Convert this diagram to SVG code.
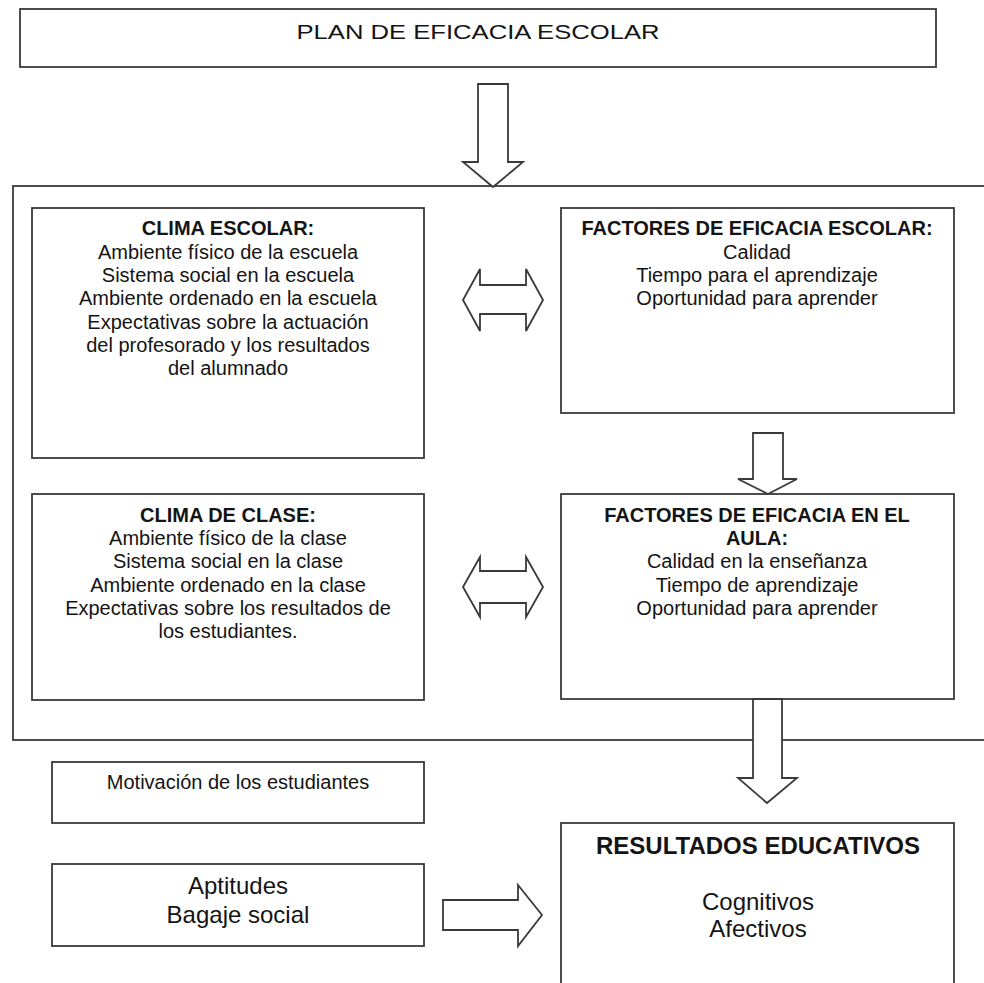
<svg xmlns="http://www.w3.org/2000/svg" width="984" height="983" viewBox="0 0 984 983">
<style>
.box{fill:#fff;stroke:#3a3a3a;stroke-width:1.8}
.arrow{fill:#fff;stroke:#3a3a3a;stroke-width:1.8;stroke-linejoin:miter}
text{font-family:"Liberation Sans",Arial,sans-serif;fill:#141414;text-anchor:middle}
.t{font-size:20px}
.h{font-size:20px;font-weight:bold}
.big{font-size:24px}
.bigh{font-size:24px;font-weight:bold}
</style>
<rect width="984" height="983" fill="#fff"/>
<g id="outer">
<rect class="box" x="13" y="186" width="990" height="554"/>
</g>
<g id="plan">
<rect class="box" x="20" y="9" width="916" height="58"/>
<text x="478" y="39" font-size="21" textLength="363" lengthAdjust="spacingAndGlyphs">PLAN DE EFICACIA ESCOLAR</text>
</g>
<g id="clima-escolar">
<rect class="box" x="32" y="208" width="392" height="250"/>
<text class="h" x="228" y="235">CLIMA ESCOLAR:</text>
<text class="t" x="228" y="259">Ambiente físico de la escuela</text>
<text class="t" x="228" y="282">Sistema social en la escuela</text>
<text class="t" x="228" y="305">Ambiente ordenado en la escuela</text>
<text class="t" x="228" y="329">Expectativas sobre la actuación</text>
<text class="t" x="228" y="352">del profesorado y los resultados</text>
<text class="t" x="228" y="375">del alumnado</text>
</g>
<g id="factores-escolar">
<rect class="box" x="561" y="208" width="393" height="205"/>
<text class="h" x="757" y="235">FACTORES DE EFICACIA ESCOLAR:</text>
<text class="t" x="757" y="259">Calidad</text>
<text class="t" x="757" y="282">Tiempo para el aprendizaje</text>
<text class="t" x="757" y="305">Oportunidad para aprender</text>
</g>
<g id="clima-clase">
<rect class="box" x="32" y="494" width="392" height="206"/>
<text class="h" x="228" y="522">CLIMA DE CLASE:</text>
<text class="t" x="228" y="545">Ambiente físico de la clase</text>
<text class="t" x="228" y="568">Sistema social en la clase</text>
<text class="t" x="228" y="592">Ambiente ordenado en la clase</text>
<text class="t" x="228" y="615">Expectativas sobre los resultados de</text>
<text class="t" x="228" y="638">los estudiantes.</text>
</g>
<g id="factores-aula">
<rect class="box" x="561" y="494" width="393" height="205"/>
<text class="h" x="757" y="522">FACTORES DE EFICACIA EN EL</text>
<text class="h" x="757" y="545">AULA:</text>
<text class="t" x="757" y="568">Calidad en la enseñanza</text>
<text class="t" x="757" y="592">Tiempo de aprendizaje</text>
<text class="t" x="757" y="615">Oportunidad para aprender</text>
</g>
<g id="motivacion">
<rect class="box" x="52" y="762" width="372" height="61"/>
<text class="t" x="238" y="789">Motivación de los estudiantes</text>
</g>
<g id="aptitudes">
<rect class="box" x="52" y="864" width="372" height="82"/>
<text class="big" x="238" y="894">Aptitudes</text>
<text class="big" x="238" y="923">Bagaje social</text>
</g>
<g id="resultados">
<rect class="box" x="561" y="823" width="393" height="180"/>
<text class="bigh" x="758" y="854">RESULTADOS EDUCATIVOS</text>
<text class="big" x="758" y="910">Cognitivos</text>
<text class="big" x="758" y="937">Afectivos</text>
</g>
<g id="connectors">
<polygon class="arrow" points="478,84 508,84 508,162 523,162 493,187 463,162 478,162"/>
<polygon class="arrow" points="463,300 480,269 480,285 526,285 526,269 543,300 526,331 526,314 480,314 480,331"/>
<polygon class="arrow" points="463,587 480,557 480,571 526,571 526,557 543,587 526,617 526,603 480,603 480,617"/>
<polygon class="arrow" points="753,433 783,433 783,479 797,479 768,494 738,479 753,479"/>
<polygon class="arrow" points="753,699 782,699 782,778 797,778 767,803 738,778 753,778"/>
<polygon class="arrow" points="443,900 518,900 518,885 542,915 518,946 518,930 443,930"/>
</g>
</svg>
